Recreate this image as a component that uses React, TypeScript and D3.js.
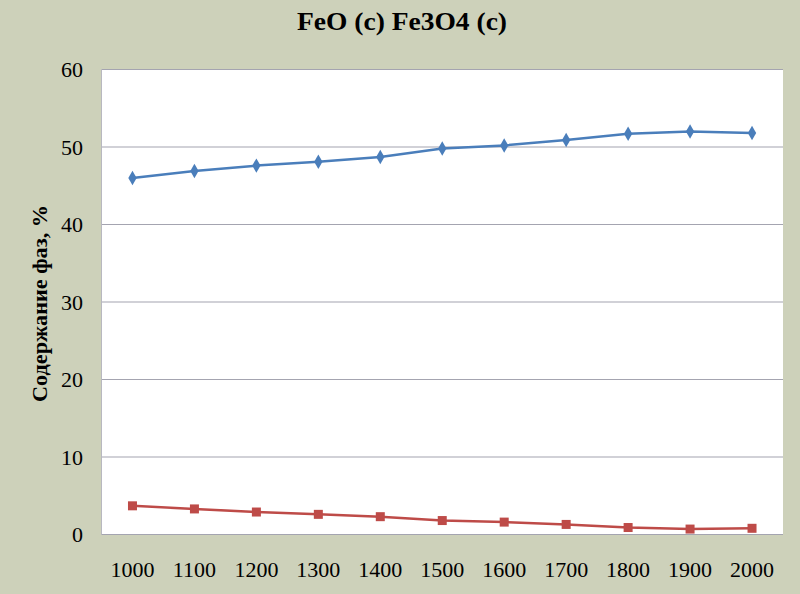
import React from "react";
import * as d3 from "d3";

const categories = ["1000", "1100", "1200", "1300", "1400", "1500", "1600", "1700", "1800", "1900", "2000"];
const feoValues = [46.0, 46.9, 47.6, 48.1, 48.7, 49.8, 50.2, 50.9, 51.7, 52.0, 51.8];
const fe3o4Values = [3.7, 3.3, 2.9, 2.6, 2.3, 1.8, 1.6, 1.3, 0.9, 0.7, 0.8];
const yTicks = [0, 10, 20, 30, 40, 50, 60];
const title = "FeO (c) Fe3O4 (c)";
const yLabel = "Содержание фаз, %";

const W = 800, H = 594;
const left = 101.5, right = 783, top = 69.5, bottom = 534.5;
const font = "Liberation Serif, Times New Roman, serif";

export default function App() {
  const x = d3.scaleBand<string>().domain(categories).range([left, right]);
  const y = d3.scaleLinear().domain([0, 60]).range([bottom, top]);
  const cx = (c: string) => (x(c) as number) + x.bandwidth() / 2;
  const line = d3.line<number>().x((_, i) => cx(categories[i])).y((d) => y(d));
  const diamond = d3.symbol().type(d3.symbolDiamond).size(60)();
  const blue = "#4a7ebb", red = "#be4b48";
  return (
    <svg width={W} height={H} style={{ position: "absolute", left: 0, top: 0, display: "block" }}>
      <rect x={0} y={0} width={W} height={H} fill="#cdd1ba" />
      <rect x={left} y={top} width={right - left} height={bottom - top} fill="#ffffff" />
      {yTicks.map((t) => (
        <g key={t}>
          {t > 0 && <line x1={left} x2={right} y1={y(t)} y2={y(t)} stroke="#a4a4b0" strokeWidth={1.2} />}
          <text x={83} y={y(t)} dy="0.35em" textAnchor="end" fontFamily={font} fontSize={22} fill="#000">{t}</text>
        </g>
      ))}
      <line x1={left} x2={left} y1={top} y2={bottom} stroke="#b8b8c0" strokeWidth={1} />
      <line x1={left} x2={right} y1={bottom} y2={bottom} stroke="#a4a4b0" strokeWidth={1.2} />
      {categories.map((c) => (
        <text key={c} x={cx(c)} y={569} dy="0.35em" textAnchor="middle" fontFamily={font} fontSize={22} fill="#000">{c}</text>
      ))}
      <path d={line(feoValues) || ""} fill="none" stroke={blue} strokeWidth={2.5} />
      {feoValues.map((v, i) => (
        <path key={i} d={diamond || ""} transform={`translate(${cx(categories[i])},${y(v)})`} fill={blue} />
      ))}
      <path d={line(fe3o4Values) || ""} fill="none" stroke={red} strokeWidth={2.5} />
      {fe3o4Values.map((v, i) => (
        <rect key={i} x={cx(categories[i]) - 4.5} y={y(v) - 4.5} width={9} height={9} fill={red} />
      ))}
      <text x={402} y={30} textAnchor="middle" fontFamily={font} fontSize={25} fontWeight="bold" fill="#000" textLength={210} lengthAdjust="spacingAndGlyphs">{title}</text>
      <text transform={`translate(47,303.5) rotate(-90)`} textAnchor="middle" fontFamily={font} fontSize={21} fontWeight="bold" fill="#000" textLength={197} lengthAdjust="spacingAndGlyphs">{yLabel}</text>
    </svg>
  );
}
